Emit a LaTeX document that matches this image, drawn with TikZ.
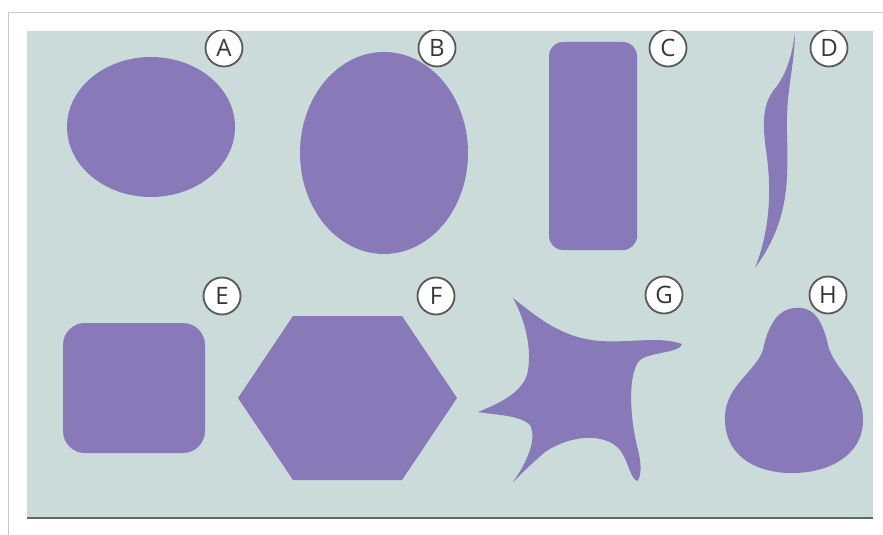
\documentclass[tikz,border=0pt]{standalone}
\usepackage{fontspec}
\setmainfont{Open Sans}
\definecolor{panel}{RGB}{202,219,218}
\definecolor{cellc}{RGB}{136,122,185}
\definecolor{frameg}{RGB}{200,200,200}
\definecolor{lblgray}{RGB}{55,55,55}
\begin{document}
\begin{tikzpicture}[x=1pt,y=-1pt,
  cell/.style={fill=cellc},
  lbl/.style={circle,fill=white,draw=gray!70!black,line width=1.8pt,minimum size=37pt,inner sep=0pt,
    font=\fontsize{24}{24}\selectfont,text=lblgray}]
\useasboundingbox (0,0) rectangle (883,535);
\fill[white] (0,0) rectangle (883,535);
% card frame
\draw[frameg,line width=1pt] (8,535) -- (8,13) -- (883,13);
% panel
\fill[panel] (27,31) rectangle (873,518);
\draw[gray!80!black,line width=1.5pt] (27,518) -- (873,518);
% A
\fill[cell] (151,127) ellipse [x radius=84, y radius=70];
% B
\fill[cell] (384,153) ellipse [x radius=84, y radius=101];
% C
\fill[cell,rounded corners=14pt] (549,42) rectangle (637,250);
% D
\fill[cell] (795,33) .. controls (794,70) and (786,90) .. (787,130)
  .. controls (788,180) and (790,220) .. (755,268)
  .. controls (770,230) and (772,190) .. (766,150)
  .. controls (761,115) and (765,100) .. (777,86)
  .. controls (787,72) and (792,55) .. (795,33) -- cycle;
% E
\fill[cell,rounded corners=22pt] (63,323) rectangle (205,453);
% F
\fill[cell] (238,398) -- (293,316) -- (402,316) -- (457,398) -- (402,480) -- (293,480) -- cycle;
% G
\fill[cell] (513,298) .. controls (535,315) and (560,338) .. (600,341)
  .. controls (630,343) and (660,336) .. (682,344)
  .. controls (680,353) and (650,352) .. (640,360)
  .. controls (627,373) and (630,420) .. (638,450)
  .. controls (642,465) and (641,478) .. (637,481)
  .. controls (630,478) and (628,460) .. (620,450)
  .. controls (605,432) and (570,435) .. (545,452)
  .. controls (530,465) and (520,475) .. (513,482)
  .. controls (525,465) and (538,440) .. (530,425)
  .. controls (520,415) and (495,415) .. (478,412)
  .. controls (495,405) and (520,395) .. (527,375)
  .. controls (533,350) and (525,320) .. (513,298) -- cycle;
% H
\fill[cell] (795,308) .. controls (812,306) and (822,318) .. (828,345)
  .. controls (834,370) and (863,385) .. (863,420)
  .. controls (863,455) and (830,472) .. (795,473)
  .. controls (755,474) and (723,455) .. (725,415)
  .. controls (727,385) and (755,372) .. (763,350)
  .. controls (768,325) and (778,309) .. (795,308) -- cycle;
% labels
\begin{scope}
\clip (27,31) rectangle (873,518);
\node[lbl] (la) at (224,48) {A};
\node[lbl] (lb) at (437,48) {B};
\node[lbl] (lc) at (668,48) {C};
\node[lbl] (ld) at (829,48) {D};
\end{scope}
\node[lbl] (le) at (222,296) {E};
\node[lbl] (lf) at (436,296) {F};
\node[lbl] (lg) at (664,295) {G};
\node[lbl] (lh) at (828,295) {H};
\end{tikzpicture}
\end{document}
